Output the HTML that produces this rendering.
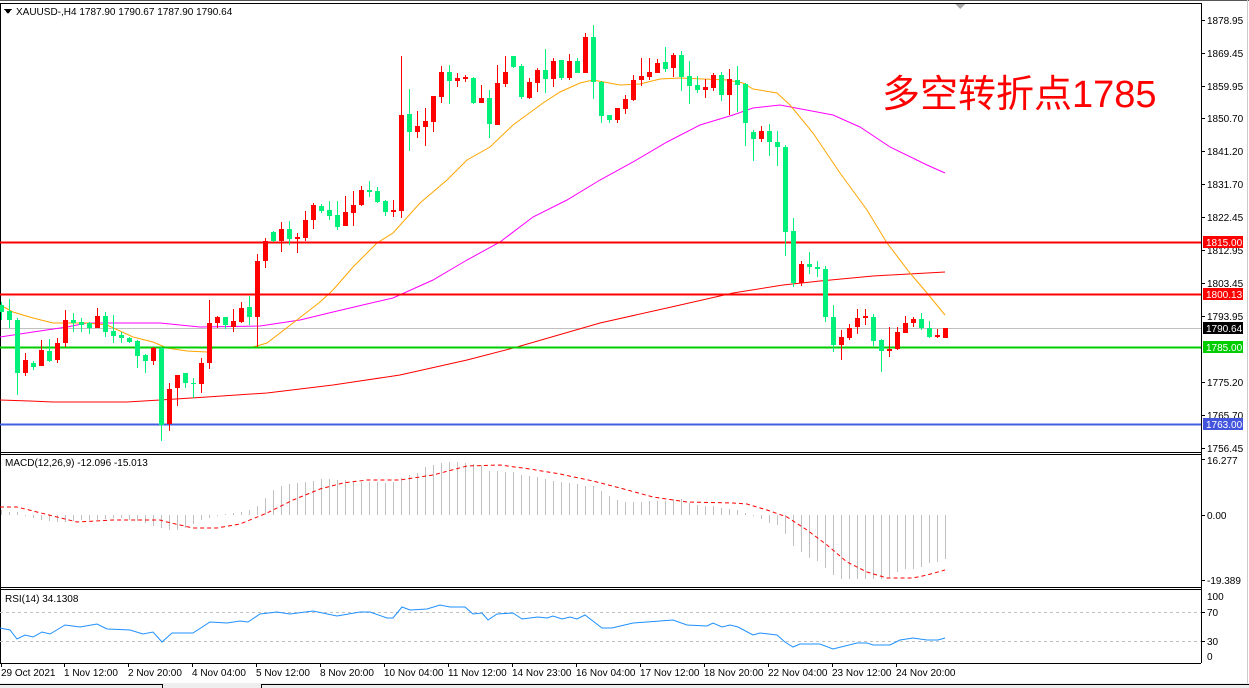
<!DOCTYPE html>
<html><head><meta charset="utf-8">
<style>
html,body{margin:0;padding:0;background:#fff;}
svg{display:block;font-family:"Liberation Sans","Noto Sans CJK SC",sans-serif;}
.ax{font-size:10px;fill:#000;}
</style></head>
<body>
<svg id="s" width="1249" height="688" xmlns="http://www.w3.org/2000/svg" shape-rendering="crispEdges">
<rect width="1249" height="688" fill="#fff"/>
<line x1="0" y1="0.5" x2="1249" y2="0.5" stroke="#555"/>
<line x1="0" y1="3.5" x2="1201" y2="3.5" stroke="#000"/>
<line x1="0.5" y1="3" x2="0.5" y2="663" stroke="#000"/>
<line x1="1201.5" y1="3" x2="1201.5" y2="663" stroke="#000"/>
<line x1="1247.5" y1="0" x2="1247.5" y2="684" stroke="#ccc"/>
<line x1="0" y1="452.5" x2="1201" y2="452.5" stroke="#000"/>
<line x1="0" y1="454.5" x2="1201" y2="454.5" stroke="#000"/>
<line x1="0" y1="587.5" x2="1201" y2="587.5" stroke="#000"/>
<line x1="0" y1="589.5" x2="1201" y2="589.5" stroke="#000"/>
<line x1="0" y1="663.5" x2="1201" y2="663.5" stroke="#000"/>
<rect x="0" y="683" width="1249" height="5" fill="#eee"/>
<line x1="0" y1="684.5" x2="162" y2="684.5" stroke="#000"/>
<line x1="262" y1="684.5" x2="1249" y2="684.5" stroke="#000"/>
<line x1="162.5" y1="684" x2="162.5" y2="688" stroke="#000"/>
<line x1="261.5" y1="684" x2="261.5" y2="688" stroke="#000"/>

<polygon points="955,4 965,4 960,9" fill="#aaa"/>
<polygon points="4,9 12,9 8,14" fill="#000"/>
<text x="16" y="15" class="ax" style="font-size:10px">XAUUSD-,H4  1787.90 1790.67 1787.90 1790.64</text>

<line x1="1" y1="328.5" x2="1201" y2="328.5" stroke="#c0c0c0" stroke-width="1"/>
<g id="ma" shape-rendering="auto" fill="none" stroke-width="1">
<polyline stroke="#ff0000" points="0,400 30,401 53,402 127,402 160,400 207,397 267,393 333,385 400,375 467,360 517,347 600,323 667,308 733,293 783,285 820,281 873,276 945,272"/>
<polyline stroke="#ff00ff" points="0,337 33,332 67,327 87,323 160,323 200,327 260,326 300,320 333,312 367,304 393,298 433,280 467,260 500,242 533,217 567,200 600,180 633,162 667,142 700,125 733,115 753,108 780,105 833,115 860,127 890,147 927,165 945,173"/>
<polyline stroke="#ffa500" points="0,305 13,312 33,318 53,323 87,323 107,325 133,337 153,342 167,348 187,351 207,352 213,348 253,347 267,343 293,323 320,302 333,290 353,267 377,243 393,233 420,203 447,180 467,160 490,147 513,125 543,103 560,92 580,83 593,80 620,85 640,84 660,79 680,78 727,80 743,83 753,89 777,93 790,105 813,133 840,173 867,210 887,243 910,273 927,293 945,315"/>
</g>
<line x1="0" y1="242.5" x2="1201" y2="242.5" stroke="#ff0000" stroke-width="2"/>
<line x1="0" y1="294.5" x2="1201" y2="294.5" stroke="#ff0000" stroke-width="2"/>
<line x1="0" y1="347.5" x2="1201" y2="347.5" stroke="#00cc00" stroke-width="2"/>
<line x1="0" y1="424.5" x2="1201" y2="424.5" stroke="#4060e0" stroke-width="2"/>
<g id="candles"></g>

<text x="882" y="107" style="font-size:38px;fill:#ff0000;font-family:'Liberation Sans','Noto Sans CJK SC',sans-serif">多空转折点1785</text>

<g class="ax">
<line x1="1201" y1="20.5" x2="1205" y2="20.5" stroke="#000"/><text x="1207" y="24">1878.95</text>
<line x1="1201" y1="53.5" x2="1205" y2="53.5" stroke="#000"/><text x="1207" y="57">1869.45</text>
<line x1="1201" y1="86.5" x2="1205" y2="86.5" stroke="#000"/><text x="1207" y="90">1859.95</text>
<line x1="1201" y1="118.5" x2="1205" y2="118.5" stroke="#000"/><text x="1207" y="122">1850.70</text>
<line x1="1201" y1="151.5" x2="1205" y2="151.5" stroke="#000"/><text x="1207" y="155">1841.20</text>
<line x1="1201" y1="184.5" x2="1205" y2="184.5" stroke="#000"/><text x="1207" y="188">1831.70</text>
<line x1="1201" y1="217.5" x2="1205" y2="217.5" stroke="#000"/><text x="1207" y="221">1822.45</text>
<line x1="1201" y1="250.5" x2="1205" y2="250.5" stroke="#000"/><text x="1207" y="254">1812.95</text>
<line x1="1201" y1="283.5" x2="1205" y2="283.5" stroke="#000"/><text x="1207" y="287">1803.45</text>
<line x1="1201" y1="316.5" x2="1205" y2="316.5" stroke="#000"/><text x="1207" y="320">1793.95</text>
<line x1="1201" y1="382.5" x2="1205" y2="382.5" stroke="#000"/><text x="1207" y="386">1775.20</text>
<line x1="1201" y1="415.5" x2="1205" y2="415.5" stroke="#000"/><text x="1207" y="419">1765.70</text>
<line x1="1201" y1="448.5" x2="1205" y2="448.5" stroke="#000"/><text x="1207" y="452">1756.45</text>
</g>
<rect x="1203" y="236" width="40" height="12" fill="#ff0000"/><text x="1206" y="246" class="ax" style="fill:#fff">1815.00</text>
<rect x="1203" y="288" width="40" height="12" fill="#ff0000"/><text x="1206" y="298" class="ax" style="fill:#fff">1800.13</text>
<rect x="1203" y="322" width="40" height="12" fill="#000"/><text x="1206" y="332" class="ax" style="fill:#fff">1790.64</text>
<rect x="1203" y="341" width="40" height="12" fill="#00cc00"/><text x="1206" y="351" class="ax" style="fill:#fff">1785.00</text>
<rect x="1203" y="418" width="40" height="12" fill="#4455dd"/><text x="1206" y="428" class="ax" style="fill:#fff">1763.00</text>

<g id="hist"></g>
<polyline shape-rendering="auto" fill="none" stroke="#ff0000" stroke-width="1" stroke-dasharray="4,3" points="0,507 17,507 33,511 57,517 77,522 113,520 160,520 167,522 193,528 217,528 240,524 267,513 293,500 320,489 343,483 367,480 400,480 433,475 467,466 500,465 530,469 560,474 593,481 620,488 653,497 687,502 733,503 747,504 767,510 787,517 807,530 827,545 847,562 867,572 887,578 913,578 927,575 945,570"/>
<text x="5" y="466" class="ax">MACD(12,26,9) -12.096 -15.013</text>
<g class="ax">
<line x1="1201" y1="459.5" x2="1205" y2="459.5" stroke="#000"/><text x="1207" y="464">16.277</text>
<line x1="1201" y1="515.5" x2="1205" y2="515.5" stroke="#000"/><text x="1207" y="519">0.00</text>
<line x1="1201" y1="580.5" x2="1205" y2="580.5" stroke="#000"/><text x="1207" y="584">-19.389</text>
</g>

<line x1="0" y1="612.5" x2="1201" y2="612.5" stroke="#c0c0c0" stroke-dasharray="3,3"/>
<line x1="0" y1="641.5" x2="1201" y2="641.5" stroke="#c0c0c0" stroke-dasharray="3,3"/>
<polyline shape-rendering="auto" fill="none" stroke="#1e90ff" stroke-width="1" points="0,628 10,630 17,639 25,635 33,637 42,632 50,634 65,625 80,627 97,624 107,629 130,630 143,634 153,632 162,642 172,633 182,633 193,633 210,622 227,623 240,621 248,622 260,614 277,612 290,614 313,611 337,616 360,612 370,612 387,618 393,618 402,607 410,610 427,609 440,605 450,607 465,607 473,614 482,613 488,620 497,614 513,613 522,619 538,617 547,618 553,616 562,619 570,617 577,619 585,615 602,628 612,628 633,623 647,622 660,621 673,620 687,625 707,626 713,623 722,627 730,625 738,627 753,635 760,633 777,635 785,642 793,647 800,644 820,644 833,649 857,643 867,643 873,645 890,645 900,640 913,638 927,640 938,640 945,638"/>
<text x="5" y="602" class="ax">RSI(14) 34.1308</text>
<g class="ax">
<text x="1207" y="600">100</text>
<line x1="1201" y1="612.5" x2="1205" y2="612.5" stroke="#000"/><text x="1207" y="616">70</text>
<line x1="1201" y1="641.5" x2="1205" y2="641.5" stroke="#000"/><text x="1207" y="645">30</text>
<text x="1207" y="660">0</text>
</g>

<g class="ax">
<line x1="1.5" y1="663" x2="1.5" y2="667" stroke="#000"/><text x="1" y="676">29 Oct 2021</text>
<line x1="64.5" y1="663" x2="64.5" y2="667" stroke="#000"/><text x="64" y="676">1 Nov 12:00</text>
<line x1="128.5" y1="663" x2="128.5" y2="667" stroke="#000"/><text x="128" y="676">2 Nov 20:00</text>
<line x1="192.5" y1="663" x2="192.5" y2="667" stroke="#000"/><text x="192" y="676">4 Nov 04:00</text>
<line x1="256.5" y1="663" x2="256.5" y2="667" stroke="#000"/><text x="256" y="676">5 Nov 12:00</text>
<line x1="320.5" y1="663" x2="320.5" y2="667" stroke="#000"/><text x="320" y="676">8 Nov 20:00</text>
<line x1="384.5" y1="663" x2="384.5" y2="667" stroke="#000"/><text x="384" y="676">10 Nov 04:00</text>
<line x1="448.5" y1="663" x2="448.5" y2="667" stroke="#000"/><text x="448" y="676">11 Nov 12:00</text>
<line x1="512.5" y1="663" x2="512.5" y2="667" stroke="#000"/><text x="512" y="676">14 Nov 23:00</text>
<line x1="576.5" y1="663" x2="576.5" y2="667" stroke="#000"/><text x="576" y="676">16 Nov 04:00</text>
<line x1="640.5" y1="663" x2="640.5" y2="667" stroke="#000"/><text x="640" y="676">17 Nov 12:00</text>
<line x1="704.5" y1="663" x2="704.5" y2="667" stroke="#000"/><text x="704" y="676">18 Nov 20:00</text>
<line x1="768.5" y1="663" x2="768.5" y2="667" stroke="#000"/><text x="768" y="676">22 Nov 04:00</text>
<line x1="832.5" y1="663" x2="832.5" y2="667" stroke="#000"/><text x="832" y="676">23 Nov 12:00</text>
<line x1="896.5" y1="663" x2="896.5" y2="667" stroke="#000"/><text x="896" y="676">24 Nov 20:00</text>
</g>
</svg>
<script>
var C=[[305,312,302,320,'g'],[311,320,299,328,'g'],[320,373,318,395,'g'],[360,373,353,376,'r'],[363,367,361,370,'g'],[350,366,340,366,'r'],[351,361,339,362,'g'],[343,360,338,363,'r'],[320,343,310,347,'r'],[320,323,313,332,'g'],
[322,325,318,332,'g'],[323,328,322,334,'g'],[316,328,308,328,'r'],[316,332,312,337,'g'],[331,336,315,343,'g'],[335,338,332,343,'g'],[338,342,337,343,'g'],[341,356,340,368,'g'],[355,361,354,373,'g'],[348,361,347,365,'r'],
[348,425,347,441,'g'],[389,424,383,431,'r'],[375,388,375,406,'r'],[373,383,373,388,'g'],[383,384,378,398,'g'],[363,384,358,393,'r'],[323,363,300,369,'r'],[317,323,316,328,'r'],[317,325,317,329,'g'],[321,327,309,332,'r'],
[308,322,302,323,'r'],[307,317,296,325,'g'],[261,317,254,347,'r'],[241,261,238,268,'r'],[232,241,231,242,'g'],[229,241,222,252,'r'],[229,239,221,245,'g'],[237,239,233,253,'r'],[220,238,211,241,'r'],[205,220,203,229,'r'],
[206,211,204,213,'g'],[210,216,201,220,'g'],[215,227,201,230,'g'],[212,226,196,226,'r'],[205,213,191,226,'r'],[190,205,186,206,'r'],[190,192,181,197,'g'],[191,202,187,203,'g'],[201,212,200,216,'g'],[210,212,200,217,'r'],
[115,211,56,218,'r'],[114,132,89,151,'g'],[126,132,111,138,'r'],[121,127,108,146,'r'],[96,122,96,132,'r'],[72,97,66,103,'r'],[72,81,65,104,'g'],[78,81,73,87,'r'],[77,79,75,82,'r'],[78,103,77,104,'g'],
[98,103,85,103,'r'],[98,124,90,138,'g'],[83,125,65,125,'r'],[72,84,56,87,'r'],[56,67,56,68,'g'],[66,97,64,99,'g'],[82,98,78,99,'r'],[70,83,68,92,'r'],[70,79,49,93,'g'],[61,79,58,87,'r'],
[60,78,60,80,'g'],[61,78,54,80,'r'],[61,73,58,73,'g'],[37,73,33,73,'r'],[37,82,25,99,'g'],[82,116,81,123,'g'],[115,120,115,123,'g'],[108,120,108,123,'r'],[99,109,95,114,'r'],[80,100,75,101,'r'],
[76,80,58,86,'r'],[72,77,58,80,'r'],[63,73,59,73,'r'],[62,69,47,72,'g'],[55,68,53,77,'r'],[55,77,51,91,'g'],[76,86,61,104,'g'],[85,90,76,93,'g'],[87,90,79,98,'r'],[75,88,73,91,'r'],
[75,95,72,101,'g'],[79,95,69,115,'r'],[80,85,66,112,'g'],[84,123,83,146,'g'],[132,139,130,161,'g'],[131,139,126,142,'r'],[131,142,124,156,'g'],[142,147,131,166,'g'],[147,232,145,256,'g'],[231,283,218,287,'g'],
[264,283,261,286,'r'],[264,267,252,274,'g'],[267,269,261,277,'g'],[269,317,266,322,'g'],[317,345,305,352,'g'],[337,345,330,360,'r'],[328,338,324,340,'r'],[318,327,309,334,'r'],[316,318,309,325,'r'],[317,341,314,346,'g'],
[340,351,339,372,'g'],[349,351,327,357,'r'],[332,349,327,350,'r'],[323,333,316,333,'r'],[319,323,317,327,'r'],[319,328,313,330,'g'],[328,337,321,338,'g'],[335,337,329,338,'r'],[328,338,328,338,'r']];
var H=[510,512,512,516,518,520,521,522,522,521,520,520,520,519,518,518,520,521,523,526,528,530,530,528,524,520,518,516,514,513,512,510,506,498,490,486,484,483,482,481,479,479,480,480,481,482,482,482,483,482,478,475,473,467,465,463,462,462,463,464,
465,471,471,472,472,475,476,477,479,481,482,483,484,486,486,491,496,500,502,502,502,501,501,501,499,499,503,505,506,506,508,509,510,513,515,519,523,525,534,546,552,558,561,568,575,579,579,579,579,579,579,577,572,569,569,567,563,562,559];
var ns="http://www.w3.org/2000/svg";
function el(p,t,a){var e=document.createElementNS(ns,t);for(var k in a)e.setAttribute(k,a[k]);p.appendChild(e);}
var g=document.getElementById('candles'),h=document.getElementById('hist');
for(var i=0;i<C.length;i++){var c=C[i],x=Math.round(1.3+8*i),col=c[4]=='r'?'#ff0000':'#00f07a';
el(g,'rect',{x:x,y:c[2],width:1,height:Math.max(1,c[3]-c[2]),fill:col});
el(g,'rect',{x:x-2,y:c[0],width:5,height:Math.max(1,c[1]-c[0]),fill:col});}
for(var i=0;i<H.length;i++){var x=Math.round(1.3+8*i),v=H[i],y0=Math.min(515,v),y1=Math.max(515,v);
el(h,'rect',{x:x,y:y0,width:1,height:Math.max(1,y1-y0),fill:'#c0c0c0'});}
</script>
</body></html>
